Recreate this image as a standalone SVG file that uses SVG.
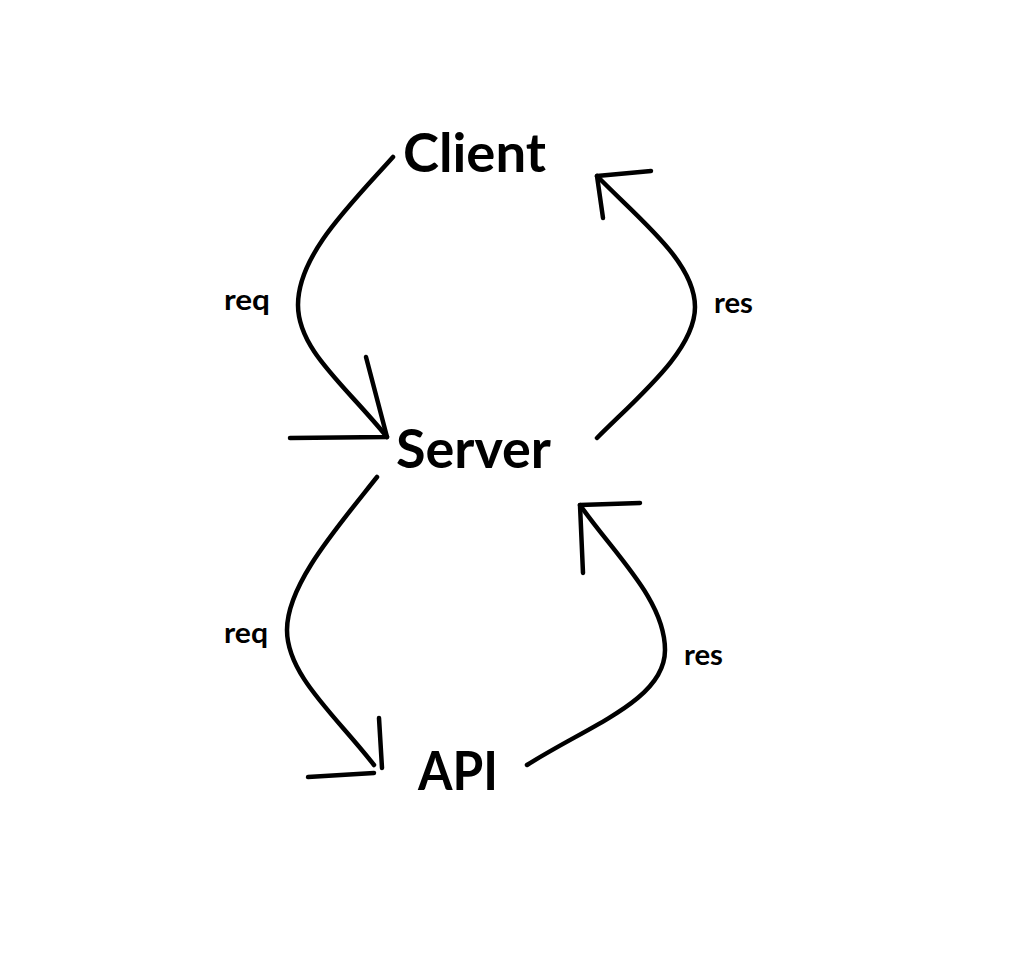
<svg xmlns="http://www.w3.org/2000/svg" width="1016" height="980" viewBox="0 0 1016 980">
<style>
.node{font-family:Lato,"Open Sans","Liberation Sans",sans-serif;font-weight:bold;font-size:54px;fill:#000}
.lbl{font-family:Lato,"Open Sans","Liberation Sans",sans-serif;font-weight:bold;font-size:29px;fill:#000}
.c{fill:none;stroke:#000;stroke-width:4.5;stroke-linecap:round;stroke-linejoin:round}
</style>
<rect width="1016" height="980" fill="#fff"/>
<g id="client"><text class="node" x="403" y="172" textLength="143" lengthAdjust="spacingAndGlyphs">Client</text></g>
<g id="server"><text class="node" x="396" y="468" textLength="155" lengthAdjust="spacingAndGlyphs">Server</text></g>
<g id="api"><text class="node" x="418" y="790" textLength="80" lengthAdjust="spacingAndGlyphs">API</text></g>
<g id="connectors">
  <g id="client-server-req">
    <path class="c" d="M393,157 C350,205 298,255 298,305 C298,350 345,385 387,437"/>
    <path class="c" d="M366,357 L387,437 L290,438"/>
    <text class="lbl" x="224" y="310" textLength="46" lengthAdjust="spacingAndGlyphs">req</text>
  </g>
  <g id="server-client-res">
    <path class="c" d="M597,438 C640,395 695,350 695,307 C695,262 640,220 597,176"/>
    <path class="c" d="M603,218 L597,176 L651,171"/>
    <text class="lbl" x="714" y="313" textLength="39" lengthAdjust="spacingAndGlyphs">res</text>
  </g>
  <g id="server-api-req">
    <path class="c" d="M377,477 C335,530 287,585 287,630 C287,675 335,715 374,765"/>
    <path class="c" d="M379,718 L382,768"/>
    <path class="c" d="M308,777 L374,773"/>
    <text class="lbl" x="224" y="643" textLength="44" lengthAdjust="spacingAndGlyphs">req</text>
  </g>
  <g id="api-server-res">
    <path class="c" d="M527,765 C590,725 665,700 665,650 C665,600 615,555 580,505"/>
    <path class="c" d="M583,573 L580,505 L640,503"/>
    <text class="lbl" x="684" y="665" textLength="39" lengthAdjust="spacingAndGlyphs">res</text>
  </g>
</g>
</svg>
